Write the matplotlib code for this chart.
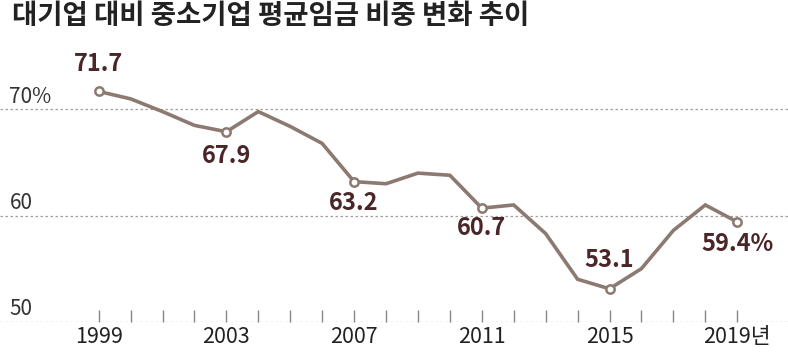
import matplotlib.pyplot as plt
import matplotlib.transforms as mtransforms

plt.rcParams['font.family'] = ['Noto Sans CJK KR', 'DejaVu Sans']

# 대기업 대비 중소기업 평균임금 비중 (%)
years = list(range(1999, 2020))
share = [71.7, 71.0, 69.8, 68.5, 67.9, 69.8, 68.4, 66.8, 63.2, 63.0, 64.0,
         63.8, 60.7, 61.0, 58.3, 54.0, 53.1, 55.0, 58.6, 61.0, 59.4]

label_years = [1999, 2003, 2007, 2011, 2015, 2019]
label_texts = ["71.7", "67.9", "63.2", "60.7", "53.1", "59.4%"]
label_offsets = [27, -24, -21, -20, 29, -22]  # px, + is above the point

xtick_years = [1999, 2003, 2007, 2011, 2015, 2019]
xtick_labels = ["1999", "2003", "2007", "2011", "2015", "2019년"]
ytick_vals = [50, 60, 70]
ytick_labels = ["50", "60", "70%"]

line_c = "#8c7a72"
lab_c = "#4a2629"
grid_c = "#a0a0a0"

fig = plt.figure(figsize=(7.88, 3.53), dpi=100)
ax = fig.add_axes([0, 0.0887, 1, 0.741])
ax.set_xlim(1995.91, 2020.59)
ax.set_ylim(50, 74.65)
ax.patch.set_alpha(0)
for s in ax.spines.values():
    s.set_visible(False)

for v in ytick_vals:
    ax.axhline(v, color=grid_c, lw=0.9, ls=(0, (2, 2)), zorder=1)

trans = mtransforms.blended_transform_factory(ax.transAxes, ax.transData)
for v, t in zip(ytick_vals, ytick_labels):
    ax.text(0.012, v + 0.15, t, transform=trans, ha='left', va='bottom',
            fontsize=15, color="#333333")

ax.plot(years, share, color=line_c, lw=2.6, zorder=3, solid_joinstyle='miter')
lx = [years.index(y) for y in label_years]
ax.plot(label_years, [share[i] for i in lx], ls='none', marker='o', ms=6,
        mfc='white', mec=line_c, mew=1.8, zorder=4)

for y, t, off in zip(label_years, label_texts, label_offsets):
    ax.annotate(t, (y, share[years.index(y)]), xytext=(0, off),
                textcoords='offset pixels', ha='center', va='center',
                fontsize=17, fontweight='bold', color=lab_c, zorder=5)

ax.set_yticks([])
ax.set_xticks(years, minor=True)
ax.set_xticks(xtick_years)
ax.set_xticklabels(xtick_labels, fontsize=15.5, color="#222222")
ax.tick_params(axis='x', which='both', direction='in', length=9, width=1,
               color="#888888", pad=3)

fig.text(0.015, 0.955, "대기업 대비 중소기업 평균임금 비중 변화 추이",
         ha='left', va='center', fontsize=19.8, fontweight='bold', color="#222222")

fig.savefig("out.png", dpi=100)
